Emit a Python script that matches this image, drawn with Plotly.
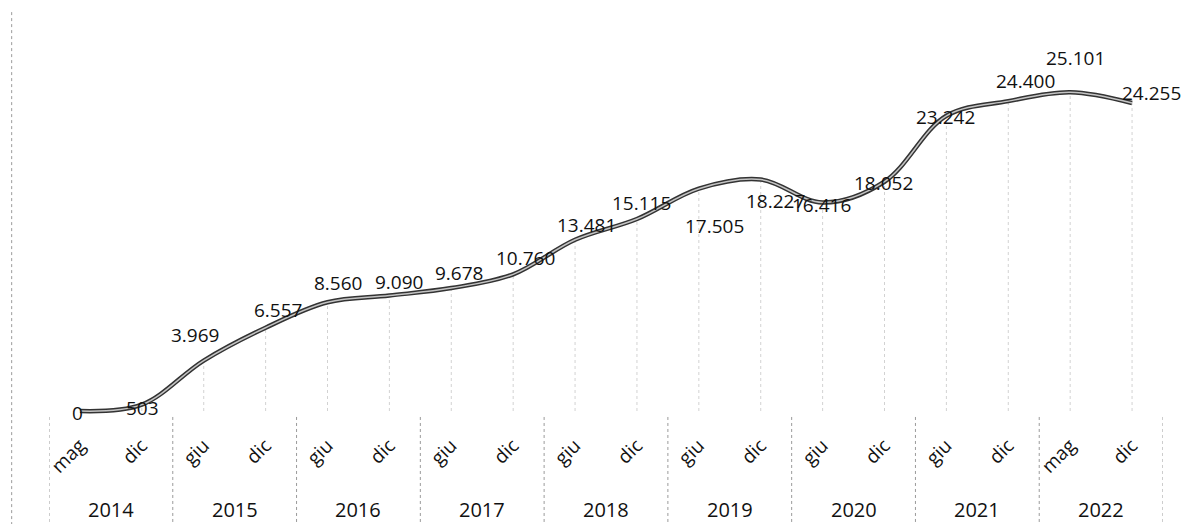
import plotly.graph_objects as go

# data
years = ["2014", "2015", "2016", "2017", "2018", "2019", "2020", "2021", "2022"]
months = ["mag", "dic", "giu", "dic", "giu", "dic", "giu", "dic", "giu", "dic",
          "giu", "dic", "giu", "dic", "giu", "dic", "mag", "dic"]
values = [0, 503, 3969, 6557, 8560, 9090, 9678, 10760, 13481, 15115,
          17505, 18227, 16416, 18052, 23242, 24400, 25101, 24255]

# pixel offsets of each data label from its point (as placed in the original)
label_dx = [-2, 1, -9, 12, 10, 10, 8, 12, 11, 5, 16, 15, -1, -1, -1, 17, 5, 19]
label_dy = [-2, -3, 26, 18, 19, 14, 15, 16, 15, 16, -37, -21, -2, -1, -1, 20, 34, 10]

FONT = "Open Sans, Lato, sans-serif"
xs = list(range(len(values)))
labels = [f"{v:,}".replace(",", ".") for v in values]

fig = go.Figure()

# drop lines from each point to the axis
dx, dy = [], []
for x, v in zip(xs, values):
    dx += [x, x, None]
    dy += [0, v, None]
fig.add_trace(go.Scatter(x=dx, y=dy, mode="lines", hoverinfo="skip", showlegend=False,
                         line=dict(color="#d2d2d2", width=1, dash="dot")))

# smoothed line, drawn twice for the outlined look
fig.add_trace(go.Scatter(x=xs, y=values, mode="lines", showlegend=False,
                         line=dict(color="#333333", width=4.5, shape="spline", smoothing=1)))
fig.add_trace(go.Scatter(x=xs, y=values, mode="lines", showlegend=False, hoverinfo="skip",
                         line=dict(color="#c4c4c4", width=1.5, shape="spline", smoothing=1)))

for x, v, t, ox, oy in zip(xs, values, labels, label_dx, label_dy):
    fig.add_annotation(x=x, y=v, text=t, showarrow=False, xshift=ox, yshift=oy,
                       font=dict(family=FONT, size=19, color="#111111"))

# year labels and dotted separators under the month labels
for i, yr in enumerate(years):
    fig.add_annotation(x=2 * i + 0.5, y=-0.24, xref="x", yref="paper", text=yr,
                       showarrow=False, yanchor="middle",
                       font=dict(family=FONT, size=20, color="#111111"))
for i in range(len(years) + 1):
    fig.add_shape(type="line", xref="x", yref="paper", x0=2 * i - 0.5, x1=2 * i - 0.5,
                  y0=-0.005, y1=-0.28, line=dict(color="#9a9a9a", width=1, dash="dot"))

# left border of the chart frame
fig.add_shape(type="line", xref="paper", yref="paper", x0=-0.0335, x1=-0.0335,
              y0=1.02, y1=-0.28, line=dict(color="#9a9a9a", width=1, dash="dot"))

fig.update_xaxes(range=[-0.5, len(values) - 0.5], tickvals=xs, ticktext=months,
                 tickangle=-45, showgrid=False, zeroline=False, showline=False,
                 ticks="outside", ticklen=11, tickcolor="rgba(0,0,0,0)",
                 tickfont=dict(family=FONT, size=19, color="#111111"))
fig.update_yaxes(range=[-315, 30787], visible=False)
# the page body adds an 8px margin, so the figure is sized to fit inside the window
fig.update_layout(width=1183, height=516, margin=dict(l=41, r=28, t=12, b=109),
                  plot_bgcolor="white", paper_bgcolor="white", showlegend=False)

fig.write_html("out.html")
